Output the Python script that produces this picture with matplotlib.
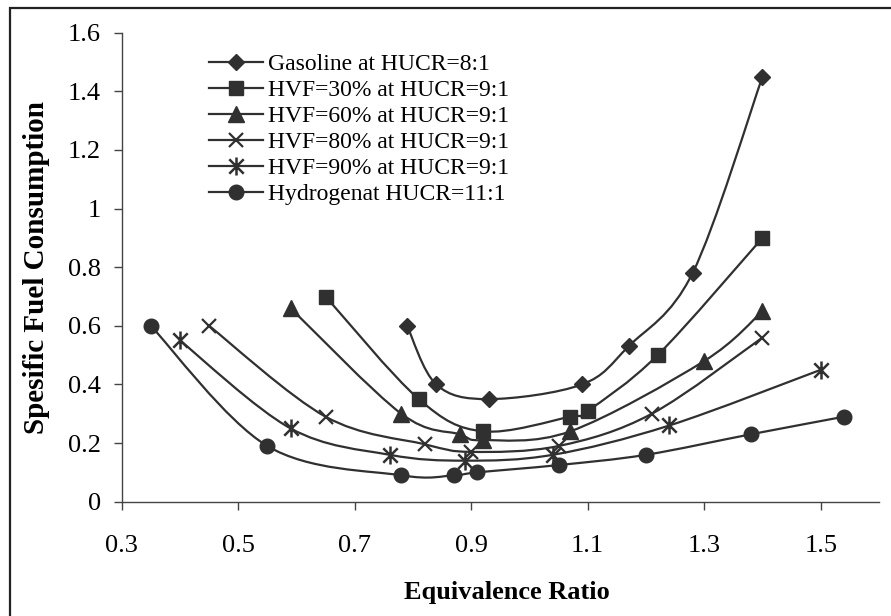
import numpy as np
import matplotlib
matplotlib.use("Agg")
import matplotlib.pyplot as plt
from matplotlib.path import Path
from matplotlib.patches import PathPatch, Rectangle
from matplotlib.lines import Line2D

plt.rcParams['font.family'] = ['Liberation Serif', 'DejaVu Serif']

# ---- data ----
gas_x = [0.79, 0.84, 0.93, 1.09, 1.17, 1.28, 1.40]
gas_y = [0.60, 0.40, 0.35, 0.40, 0.53, 0.78, 1.45]

hvf30_x = [0.65, 0.81, 0.92, 1.07, 1.10, 1.22, 1.40]
hvf30_y = [0.70, 0.35, 0.24, 0.29, 0.31, 0.50, 0.90]

hvf60_x = [0.59, 0.78, 0.88, 0.92, 1.07, 1.30, 1.40]
hvf60_y = [0.66, 0.30, 0.23, 0.21, 0.24, 0.48, 0.65]

hvf80_x = [0.45, 0.65, 0.82, 0.90, 1.05, 1.21, 1.40]
hvf80_y = [0.60, 0.29, 0.196, 0.17, 0.19, 0.30, 0.56]

hvf90_x = [0.40, 0.59, 0.76, 0.89, 1.04, 1.24, 1.50]
hvf90_y = [0.55, 0.25, 0.16, 0.14, 0.16, 0.26, 0.45]

h2_x = [0.35, 0.55, 0.78, 0.87, 0.91, 1.05, 1.20, 1.38, 1.54]
h2_y = [0.60, 0.19, 0.09, 0.09, 0.10, 0.125, 0.16, 0.23, 0.29]

labels = ["Gasoline at HUCR=8:1", "HVF=30% at HUCR=9:1", "HVF=60% at HUCR=9:1",
          "HVF=80% at HUCR=9:1", "HVF=90% at HUCR=9:1", "Hydrogenat HUCR=11:1"]

x_ticks = [0.3, 0.5, 0.7, 0.9, 1.1, 1.3, 1.5]
y_ticks = [0, 0.2, 0.4, 0.6, 0.8, 1.0, 1.2, 1.4, 1.6]
y_ticklabels = ["0", "0.2", "0.4", "0.6", "0.8", "1", "1.2", "1.4", "1.6"]

col = '#303030'

# asterisk marker: X plus a vertical bar
star = Path([(-1, -1), (1, 1), (-1, 1), (1, -1), (0, -1.25), (0, 1.25)],
            [Path.MOVETO, Path.LINETO] * 3)

styles = [dict(marker='D', ms=8),
          dict(marker='s', ms=10),
          dict(marker='^', ms=11),
          dict(marker='x', ms=10, mew=1.6),
          dict(marker=star, ms=13, mew=1.8),
          dict(marker='o', ms=10.5)]


def smooth_path(xs, ys):
    # Excel-like smoothed line: Catmull-Rom segments as cubic Beziers
    p = np.column_stack([xs, ys])
    n = len(p)
    verts = [p[0]]
    codes = [Path.MOVETO]
    for i in range(n - 1):
        p0 = p[i - 1] if i > 0 else p[i]
        p3 = p[i + 2] if i + 2 < n else p[i + 1]
        c1 = p[i] + (p[i + 1] - p0) / 6.0
        c2 = p[i + 1] - (p3 - p[i]) / 6.0
        verts += [c1, c2, p[i + 1]]
        codes += [Path.CURVE4] * 3
    return Path(verts, codes)


W, H = 891, 616
fig = plt.figure(figsize=(W / 100, H / 100), dpi=100)
ax = fig.add_axes([121.7 / W, 1 - 501.7 / H, (879 - 121.7) / W, (501.7 - 32.7) / H])

series = [(gas_x, gas_y), (hvf30_x, hvf30_y), (hvf60_x, hvf60_y),
          (hvf80_x, hvf80_y), (hvf90_x, hvf90_y), (h2_x, h2_y)]

for (xs, ys), st in zip(series, styles):
    ax.add_patch(PathPatch(smooth_path(xs, ys), fill=False, edgecolor=col, lw=1.6))
    ax.plot(xs, ys, linestyle='none', color=col, mfc=col, mec=col, **st)

ax.set_xlim(0.3, 1.6)
ax.set_ylim(0, 1.6)
ax.set_xticks(x_ticks)
ax.set_xticklabels([str(v) for v in x_ticks])
ax.set_yticks(y_ticks)
ax.set_yticklabels(y_ticklabels)
for s in ['top', 'right']:
    ax.spines[s].set_visible(False)
for s in ['left', 'bottom']:
    ax.spines[s].set_color('#444444')
    ax.spines[s].set_linewidth(1.0)
ax.tick_params(axis='both', direction='out', length=6, width=1.0, color='#444444',
               labelsize=19)
ax.tick_params(axis='x', pad=18)
ax.tick_params(axis='y', pad=9)

fig.text(37 / W, 1 - 268 / H, "Spesific Fuel Consumption", rotation=90,
         ha='center', va='center', fontsize=21, fontweight='bold')
fig.text(507 / W, 1 - 593 / H, "Equivalence Ratio",
         ha='center', va='center', fontsize=19, fontweight='bold')

# legend drawn by hand, rows 26 px apart
for i, (st, lab) in enumerate(zip(styles, labels)):
    yy = 1 - (61.7 + 26 * i) / H
    fig.add_artist(Line2D([209 / W, 263 / W], [yy, yy], transform=fig.transFigure,
                          color=col, lw=1.6))
    fig.add_artist(Line2D([236 / W], [yy], transform=fig.transFigure, linestyle='none',
                          color=col, mfc=col, mec=col, **st))
    fig.text(268 / W, yy, lab, ha='left', va='center_baseline', fontsize=17)

# outer chart border (runs off the bottom and right edge in the reference)
fig.patches.append(Rectangle((10 / W, -0.1), 1.2, 1 - 8 / H + 0.1,
                             transform=fig.transFigure, fill=False,
                             edgecolor='#222222', lw=1.6))

fig.savefig("out.png", dpi=100)
